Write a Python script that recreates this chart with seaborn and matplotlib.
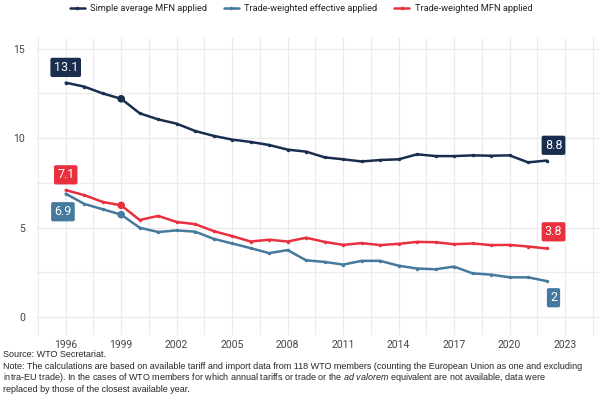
import pandas as pd
import matplotlib.pyplot as plt
import seaborn as sns

years = list(range(1996, 2023))

simpleMfn = [13.1, 12.88, 12.5, 12.2, 11.39, 11.05, 10.81, 10.4, 10.13, 9.92, 9.79, 9.62, 9.36, 9.25,
             8.93, 8.82, 8.7, 8.78, 8.82, 9.1, 9.0, 9.0, 9.04, 9.02, 9.04, 8.65, 8.75]
tradeEffective = [6.9, 6.33, 6.03, 5.73, 5.0, 4.76, 4.85, 4.78, 4.38, 4.12, 3.86, 3.58, 3.75, 3.18,
                  3.09, 2.94, 3.15, 3.15, 2.88, 2.72, 2.68, 2.83, 2.45, 2.38, 2.23, 2.23, 2.02]
tradeMfn = [7.1, 6.82, 6.44, 6.25, 5.43, 5.66, 5.32, 5.2, 4.81, 4.53, 4.23, 4.33, 4.23, 4.44,
            4.21, 4.04, 4.14, 4.03, 4.1, 4.21, 4.19, 4.08, 4.12, 4.03, 4.04, 3.95, 3.84]

seriesNames = ["Simple average MFN applied", "Trade-weighted effective applied", "Trade-weighted MFN applied"]
seriesColors = ["#1b2d4f", "#457a9e", "#e8303f"]
xTicks = [1996, 1999, 2002, 2005, 2008, 2011, 2014, 2017, 2020, 2023]
yTicks = [0, 5, 10, 15]

df = pd.DataFrame({
    "year": years * 3,
    "value": simpleMfn + tradeEffective + tradeMfn,
    "series": [seriesNames[0]] * len(years) + [seriesNames[1]] * len(years) + [seriesNames[2]] * len(years),
})

sns.set_style("whitegrid", {"grid.color": "#ebebeb", "axes.edgecolor": "white"})
plt.rcParams["font.family"] = ["Roboto", "DejaVu Sans"]
plt.rcParams["mathtext.fontset"] = "custom"
plt.rcParams["mathtext.it"] = "Liberation Sans:italic"
plt.rcParams["mathtext.rm"] = "Liberation Sans"

fig = plt.figure(figsize=(6.02, 3.99), dpi=100)
ax = fig.add_axes([0.06, 0.16, 0.937, 0.745])

palette = dict(zip(seriesNames, seriesColors))
sns.lineplot(data=df, x="year", y="value", hue="series", hue_order=seriesNames, palette=palette,
             marker="o", markersize=2.5, markeredgewidth=0, linewidth=1.8, ax=ax)

# highlighted 1999 points
hl = df[df["year"] == 1999]
sns.scatterplot(data=hl, x="year", y="value", hue="series", hue_order=seriesNames, palette=palette,
                s=30, edgecolor="none", legend=False, ax=ax, zorder=5)

ax.set_xlim(1994.4, 2024.9)
ax.set_ylim(-1.0, 15.6)
ax.set_xticks(xTicks)
ax.set_yticks(yTicks)
ax.set_xticks([t + 1.5 for t in xTicks] + [xTicks[0] - 1.5], minor=True)
ax.set_yticks([2.5, 7.5, 12.5], minor=True)
ax.grid(which="minor", color="#ebebeb", linewidth=0.8)
ax.grid(which="major", color="#ebebeb", linewidth=0.9)
ax.tick_params(axis="both", which="both", length=0, labelsize=7.5, labelcolor="#444444")
ax.tick_params(axis="y", pad=8)
ax.set_xlabel("")
ax.set_ylabel("")
for s in ax.spines.values():
    s.set_visible(False)

# value labels at the ends
labels = [
    (years[0], simpleMfn[0], seriesColors[0], (0, 11)),
    (years[0], tradeMfn[0], seriesColors[2], (0, 11)),
    (years[0], tradeEffective[0], seriesColors[1], (-2, -13)),
    (years[-1], simpleMfn[-1], seriesColors[0], (5, 11)),
    (years[-1], tradeMfn[-1], seriesColors[2], (5, 12)),
    (years[-1], tradeEffective[-1], seriesColors[1], (5, -12)),
]
for x, y, c, off in labels:
    txt = f"{y:.1f}".rstrip("0").rstrip(".")
    ax.annotate(txt, (x, y), xytext=off, textcoords="offset points", ha="center", va="center",
                color="white", fontsize=9,
                bbox=dict(boxstyle="round,pad=0.25,rounding_size=0.15", fc=c, ec="none"))

handles, lbls = ax.get_legend_handles_labels()
ax.legend(handles, lbls, loc="upper center", bbox_to_anchor=(0.5, 1.01), bbox_transform=fig.transFigure,
          ncol=3, frameon=False, fontsize=6.7, handlelength=1.6, columnspacing=1.8, handletextpad=0.6)

fig.text(0.005, 0.123, "Source: WTO Secretariat.", fontsize=6.5, family="Liberation Sans", va="top")
fig.text(0.005, 0.093,
         "Note: The calculations are based on available tariff and import data from 118 WTO members (counting the European Union as one and excluding\n"
         "intra-EU trade). In the cases of WTO members for which annual tariffs or trade or the $\\it{ad\\ valorem}$ equivalent are not available, data were\n"
         "replaced by those of the closest available year.",
         fontsize=6.5, family="Liberation Sans", va="top", linespacing=1.05)

fig.savefig("out.png", dpi=100)
